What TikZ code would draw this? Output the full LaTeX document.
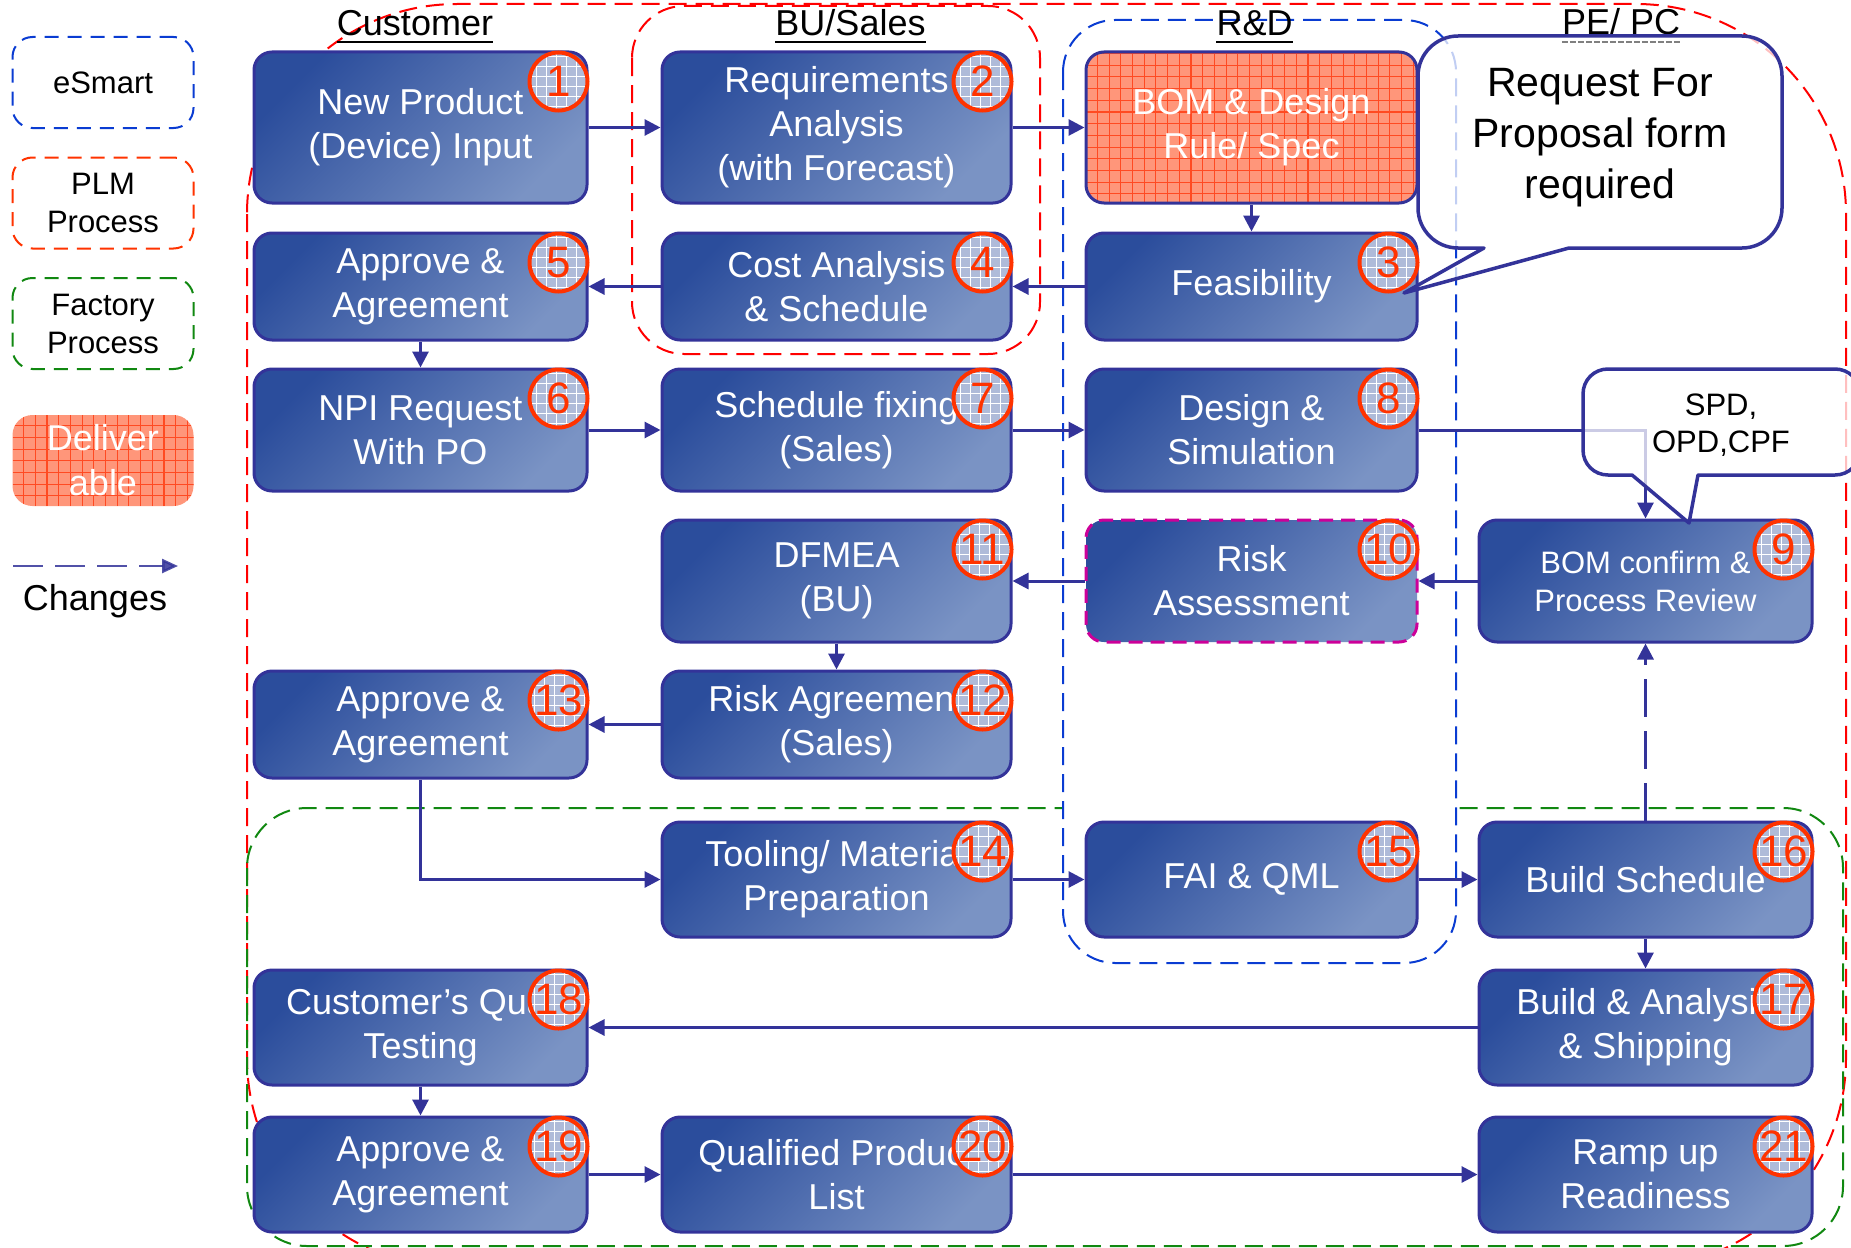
\documentclass[tikz,border=0pt]{standalone}
\usepackage{fontspec}
\setmainfont{Liberation Sans}
\usetikzlibrary{arrows.meta}

\definecolor{navy}{HTML}{333399}
\definecolor{boxdark}{HTML}{2B4D9C}
\definecolor{boxlight}{HTML}{7A93C4}
\definecolor{numred}{HTML}{FF3300}
\definecolor{badgefill}{HTML}{AFBBD9}
\definecolor{salmon}{HTML}{FF967A}
\definecolor{salline}{HTML}{FF4A22}
\definecolor{zonered}{HTML}{FF0000}
\definecolor{legred}{HTML}{FF3300}
\definecolor{esblue}{HTML}{0A3CD2}
\definecolor{facgreen}{HTML}{118811}
\definecolor{riskpink}{HTML}{CC0099}

\begin{document}
\begin{tikzpicture}[x=1pt,y=-1pt,
  zone/.style={line width=2pt, dash pattern=on 18pt off 9pt},
  legbox/.style={rectangle, draw, line width=2pt, dash pattern=on 14pt off 9pt,
    rounded corners=20pt, minimum width=181pt, minimum height=91pt, inner sep=0pt,
    align=center, font=\fontsize{31}{38}\selectfont},
  procbase/.style={rectangle, rounded corners=18pt, draw=navy, line width=3pt,
    text=white, align=center, inner sep=0pt, font=\fontsize{36}{44}\selectfont},
  proc/.style={procbase, top color=boxdark, bottom color=boxlight, shading angle=45},
  deliv/.style={fill=salmon, path picture={\draw[salline, solid, line width=1.1pt, step=11.7pt]
    (path picture bounding box.south west) grid (path picture bounding box.north east);}},
  colA/.style={minimum width=333pt}, colB/.style={minimum width=349pt},
  colC/.style={minimum width=331pt}, colD/.style={minimum width=333pt},
  hA/.style={minimum height=151pt}, hB/.style={minimum height=107pt},
  hC/.style={minimum height=122pt}, hD/.style={minimum height=115pt},
  badge/.style={circle, minimum size=58pt, inner sep=0pt, draw=numred, line width=4pt,
    fill=badgefill, text=numred, font=\fontsize{44}{44}\selectfont,
    path picture={\draw[white, solid, line width=0.9pt, step=10pt]
      (path picture bounding box.south west) grid (path picture bounding box.north east);}},
  arr/.style={draw=navy, line width=3pt, -{Triangle[length=16pt,width=16pt]}},
  hdr/.style={anchor=base, inner sep=0pt, font=\fontsize{36}{40}\selectfont},
  callout/.style={draw=navy, line width=3.5pt, fill=white, fill opacity=0.75, line join=round}
]
\useasboundingbox (0,0) rectangle (1851,1247);

% swim-lane zones
\draw[zone, zonered, rounded corners=210pt] (247,4) rectangle (1846,1268);
\draw[zone, facgreen, rounded corners=60pt] (247,808) rectangle (1843,1246);
\draw[zone, esblue, fill=white, rounded corners=52pt] (1063,20) rectangle (1456,963);
\draw[zone, zonered, rounded corners=52pt] (632,6) rectangle (1040,354);

% legend
\node[legbox, draw=esblue] (legE) at (103,82.5) {eSmart};
\node[legbox, draw=legred] (legP) at (103,203) {PLM\\Process};
\node[legbox, draw=facgreen] (legF) at (103,323.5) {Factory\\Process};
\node[legbox, draw=none, deliv, text=white, font=\fontsize{36}{45}\selectfont] (legD) at (103,460.5) {Deliver\\able};
\coordinate (chgA) at (13,566);
\coordinate (chgB) at (178,566);
\draw[navy, opacity=0.85, line width=2.5pt, dash pattern=on 30pt off 12pt,
  -{Triangle[length=16pt,width=14pt]}] (chgA) -- (chgB);
\node[hdr] (legC) at (95,610) {Changes};

% lane headers
\node[hdr] (hCust) at (415,36) {Customer};
\node[hdr] (hBU) at (850.5,36) {BU/Sales};
\node[hdr] (hRD) at (1254.5,36) {R\&D};
\node[hdr] (hPE) at (1621,35) {PE/ PC};
\foreach \h in {hCust,hBU,hRD}
  \draw[line width=2pt] ([yshift=-6pt]\h.base west) -- ([yshift=-6pt]\h.base east);

% process steps
\node[proc, colA, hA] (b1) at (420.5,127.5) {New Product\\(Device) Input};
\node[proc, colB, hA] (b2) at (836.5,127.5) {Requirements\\Analysis\\(with Forecast)};
\node[procbase, deliv, colC, hA] (bom) at (1251.5,127.5) {BOM \& Design\\Rule/ Spec};
\node[proc, colC, hB] (b3) at (1251.5,286.5) {Feasibility};
\node[proc, colB, hB] (b4) at (836.5,286.5) {Cost Analysis\\\& Schedule};
\node[proc, colA, hB] (b5) at (420.5,286.5) {Approve \&\\Agreement};
\node[proc, colA, hC] (b6) at (420.5,430) {NPI Request\\With PO};
\node[proc, colB, hC] (b7) at (836.5,430) {Schedule fixing\\(Sales)};
\node[proc, colC, hC] (b8) at (1251.5,430) {Design \&\\Simulation};
\node[proc, colD, hC, font=\fontsize{31}{38}\selectfont] (b9) at (1645.5,581) {BOM confirm \&\\Process Review};
\node[proc, colC, hC, draw=riskpink, dash pattern=on 14pt off 8pt] (b10) at (1251.5,581) {Risk\\Assessment};
\node[proc, colB, hC] (b11) at (836.5,581) {DFMEA\\(BU)};
\node[proc, colB, hB] (b12) at (836.5,724.5) {Risk Agreement\\(Sales)};
\node[proc, colA, hB] (b13) at (420.5,724.5) {Approve \&\\Agreement};
\node[proc, colB, hD] (b14) at (836.5,879.5) {Tooling/ Material\\Preparation};
\node[proc, colC, hD] (b15) at (1251.5,879.5) {FAI \& QML};
\node[proc, colD, hD] (b16) at (1645.5,879.5) {Build Schedule};
\node[proc, colD, hD] (b17) at (1645.5,1027.5) {Build \& Analysis\\\& Shipping};
\node[proc, colA, hD] (b18) at (420.5,1027.5) {Customer’s Qual\\Testing};
\node[proc, colA, hD] (b19) at (420.5,1174.5) {Approve \&\\Agreement};
\node[proc, colB, hD] (b20) at (836.5,1174.5) {Qualified Product\\List};
\node[proc, colD, hD] (b21) at (1645.5,1174.5) {Ramp up\\Readiness};

% flow
\draw[arr] (b1) -- (b2);
\draw[arr] (b2) -- (bom);
\draw[arr] (bom) -- (b3);
\draw[arr] (b3) -- (b4);
\draw[arr] (b4) -- (b5);
\draw[arr] (b5) -- (b6);
\draw[arr] (b6) -- (b7);
\draw[arr] (b7) -- (b8);
\draw[arr] (b8.east) -| (b9.north);
\draw[arr] (b9) -- (b10);
\draw[arr] (b10) -- (b11);
\draw[arr] (b11) -- (b12);
\draw[arr] (b12) -- (b13);
\draw[arr] (b13.south) |- (b14.west);
\draw[arr] (b14) -- (b15);
\draw[arr] (b15) -- (b16);
\draw[arr, dash pattern=on 38pt off 14pt] (b16) -- (b9);
\draw[arr] (b16) -- (b17);
\draw[arr] (b17) -- (b18);
\draw[arr] (b18) -- (b19);
\draw[arr] (b19) -- (b20);
\draw[arr] (b20) -- (b21);

% step numbers
\foreach \b/\n in {b1/1,b2/2,b3/3,b4/4,b5/5,b6/6,b7/7,b8/8,b9/9,b10/10,b11/11,
  b12/12,b13/13,b14/14,b15/15,b16/16,b17/17,b18/18,b19/19,b20/20,b21/21}
  \node[badge] (\b n) at ([xshift=-30pt,yshift=-31pt]\b.north east) {\n};

% call-outs
\draw[callout] (1484,248) -- (1458,248) .. controls (1436,248) and (1418,230) .. (1418,208)
  -- (1418,76) .. controls (1418,54) and (1436,36) .. (1458,36)
  -- (1742,36) .. controls (1764,36) and (1782,54) .. (1782,76)
  -- (1782,208) .. controls (1782,230) and (1764,248) .. (1742,248)
  -- (1569,248) -- (1404,293) -- cycle;
\node[align=center, inner sep=0pt, font=\fontsize{41}{51}\selectfont] (rfp) at (1600,138)
  {Request For\\Proposal form\\required};

\draw[callout] (1632,475) -- (1608,475) .. controls (1594,475) and (1583,464) .. (1583,450)
  -- (1583,394) .. controls (1583,380) and (1594,369) .. (1608,369)
  -- (1835,369) .. controls (1849,369) and (1860,380) .. (1860,394)
  -- (1860,450) .. controls (1860,464) and (1849,475) .. (1835,475)
  -- (1698,475) -- (1689,523) -- cycle;
\node[align=center, inner sep=0pt, font=\fontsize{31}{37}\selectfont] (spd) at (1721,425)
  {SPD,\\OPD,CPF};

\draw[gray, line width=1.5pt, dash pattern=on 6pt off 2pt]
  ([yshift=-7pt]hPE.base west) -- ([yshift=-7pt]hPE.base east);
\end{tikzpicture}
\end{document}
